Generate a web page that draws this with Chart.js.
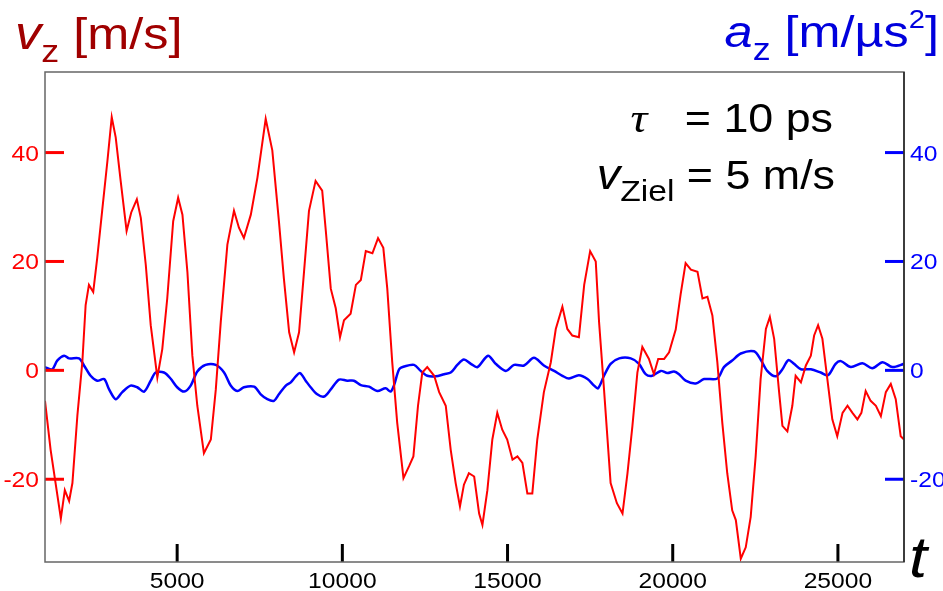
<!DOCTYPE html>
<html>
<head>
<meta charset="utf-8">
<script src="https://cdn.jsdelivr.net/npm/chart.js@4/dist/chart.umd.min.js"></script>
<style>
  body { margin: 0; background: #fff; }
  #wrap { width: 943px; height: 591px; position: relative; }
</style>
</head>
<body>
<div id="wrap"><canvas id="chart"></canvas></div>
<script>
// time axis (t) and tick values
const tMin = 1000;
const tMax = 27000;
const xTicks = [5000, 10000, 15000, 20000, 25000];

// both vertical axes share the same range
const yMin = -35.2;
const yMax = 54.8;
const vTicks = [-20, 0, 20, 40];
const aTicks = [-20, 0, 20, 40];

// v_z [m/s]
const vzT = [1000,1170,1320,1480,1600,1730,1830,1980,2130,2230,2330,2460,2580,2730,2890,3020,3140,3290,3470,3610,
  3780,3900,4050,4200,4400,4550,4700,4880,5030,5160,5310,5460,5610,5810,6020,6170,6320,6520,6720,6870,
  7020,7230,7430,7680,7880,8080,8230,8390,8540,8690,8840,8990,9190,9390,9500,9650,9800,9930,10050,10250,
  10410,10560,10710,10910,11080,11240,11360,11510,11660,11850,12020,12150,12290,12420,12570,12780,12930,13130,13280,13430,
  13560,13680,13830,13990,14140,14240,14390,14540,14690,14840,14990,15150,15300,15450,15600,15750,15900,16100,16310,16460,
  16660,16810,16960,17160,17320,17500,17670,17770,17920,18120,18310,18480,18630,18780,18930,19080,19280,19430,19560,19740,
  19890,20090,20240,20390,20550,20750,20900,21050,21200,21350,21500,21650,21800,21910,22060,22210,22360,22510,22660,22820,
  22940,23070,23220,23320,23470,23620,23720,23880,24030,24180,24280,24400,24530,24680,24830,24980,25140,25290,25440,25590,
  25710,25840,25990,26150,26300,26450,26600,26750,26900,27000];
const vzV = [-5.6,-14.6,-20.7,-27.2,-22,-24,-20.7,-8.3,1.5,12,15.7,14.4,20.6,29.3,38.5,46.5,42.8,34.8,25.6,29,
  31.4,28,19.4,8.3,-1.3,3.9,13.2,27.4,31.7,28.6,18.1,2.7,-6.5,-15.2,-12.7,-3.5,8.9,23.1,29.3,26.2,
  24.3,28.6,35.4,46.2,40.4,27.4,16.9,7,3.3,7,18.1,29.3,34.8,33,25.6,15,11.4,6.1,9.2,10.4,
  15.7,16.6,21.9,21.5,24.3,22.5,15,1.5,-9.6,-19.8,-17.6,-15.8,-6.5,-0.4,0.6,-1,-4,-6.5,-14.6,-20.7,
  -25,-21,-18.9,-19.5,-26.3,-28.4,-22,-12.7,-7.8,-10.9,-12.7,-16.4,-15.8,-17,-22.6,-22.6,-12.7,-4,1.5,7.6,
  11.7,7.6,6.4,6.1,15.7,21.9,20,8.9,-3.5,-20.7,-24.4,-26.3,-18.9,-10.2,-0.4,4.3,2.1,-0.7,2.1,2.1,
  3.3,7.5,14,19.7,18.5,18.1,13.2,13.5,10.1,1.5,-9.6,-18.9,-25.7,-27.5,-34.6,-32.5,-26.9,-15.8,-1.6,7.6,
  9.8,5.8,-4,-10.2,-11.2,-6.5,-1,-2.2,0.9,2.7,6.4,8.3,5.8,-1.6,-9,-12.1,-7.8,-6.5,-7.8,-9,
  -7.8,-3.8,-5.6,-6.5,-8.4,-4,-2.5,-5.3,-12.1,-12.7];

// a_z [m/us^2]
const azT = [1000,1220,1370,1580,1730,2030,2180,2380,2580,2790,2940,3140,3340,3590,3790,4000,4200,4350,4600,4800,
  5000,5210,5410,5610,5860,6170,6420,6620,6820,7020,7330,7530,7730,7930,8080,8290,8440,8590,8720,8890,
  9040,9240,9450,9650,9900,10150,10350,10560,10810,11060,11310,11460,11560,11720,11870,12170,12370,12570,12830,13080,
  13280,13480,13680,13890,14090,14410,14640,14950,15200,15500,15800,16100,16410,16660,16860,17160,17420,17620,17740,17920,
  18120,18380,18730,18980,19180,19380,19640,19840,20040,20190,20390,20700,20950,21350,21550,21800,22060,22460,22660,22860,
  23120,23320,23500,23670,23880,24180,24480,24700,24930,25090,25390,25740,26040,26350,26650,27000];
const azV = [0.6,0.2,1.8,2.7,2.2,2.2,0.9,-1,-1.9,-1.6,-3.5,-5.3,-4,-2.8,-3.1,-3.9,-1.9,-0.4,-0.4,-1.5,
  -3.1,-3.9,-2.8,-0.2,1,1,-0.4,-2.8,-3.8,-3.1,-3,-4.4,-5.3,-5.6,-4.4,-2.8,-2.2,-1.1,-0.5,-1.9,
  -3.1,-4.4,-4.8,-3.5,-1.7,-1.9,-1.9,-2.7,-3,-3.8,-3.3,-3.9,-2.8,0.2,0.7,1,-0.1,-1,-1.1,-0.7,
  -0.4,1,2,1.2,0.6,2.7,1.2,-0.1,1,0.9,2.3,0.9,-0.1,-1,-1.5,-0.9,-1.6,-2.8,-3.3,-1,
  1.2,2.2,2.2,1.2,-0.7,-1,-0.1,-0.5,-0.2,-0.7,-1.9,-2.4,-1.6,-1.5,0.6,1.8,3.1,3.5,2,-0.1,
  -1.1,0.2,1.9,1.2,0.2,0.2,-0.4,-0.9,1.2,1.7,0.6,1.3,0.4,1.5,0.6,1.2];

const SANS = '"Liberation Sans", Arial, sans-serif';
const SERIF = '"Liberation Serif", "Times New Roman", serif';
const STRETCH = 1.12; // the lettering is a bit wider than plain Helvetica

// draw a row of text pieces (with sub/superscripts) on one baseline
function drawRuns(ctx, x, y, runs, align) {
  ctx.save();
  let w = 0;
  runs.forEach(r => { ctx.font = r.font; w += ctx.measureText(r.text).width; });
  ctx.translate(x, y);
  ctx.scale(STRETCH, 1);
  let cx = align === "right" ? -w : align === "center" ? -w / 2 : 0;
  ctx.textAlign = "left";
  ctx.textBaseline = "alphabetic";
  runs.forEach(r => {
    ctx.font = r.font;
    ctx.fillStyle = r.color;
    ctx.fillText(r.text, cx, r.dy || 0);
    cx += ctx.measureText(r.text).width;
  });
  ctx.restore();
}

function stroke(ctx, x1, y1, x2, y2) {
  ctx.beginPath();
  ctx.moveTo(x1, y1);
  ctx.lineTo(x2, y2);
  ctx.stroke();
}

const frame = {
  id: "frame",
  afterDatasetsDraw(chart) {
    const { ctx, chartArea: a, scales } = chart;
    ctx.save();
    ctx.lineCap = "butt";

    // ticks point into the plot
    ctx.lineWidth = 3;
    ctx.strokeStyle = "#000";
    scales.x.ticks.forEach(t => {
      const px = scales.x.getPixelForValue(t.value);
      stroke(ctx, px, a.bottom, px, a.bottom - 18);
    });
    ctx.strokeStyle = "#ff0000";
    scales.y.ticks.forEach(t => {
      const py = scales.y.getPixelForValue(t.value);
      stroke(ctx, a.left, py, a.left + 19, py);
    });
    ctx.strokeStyle = "#0000ff";
    scales.y2.ticks.forEach(t => {
      const py = scales.y2.getPixelForValue(t.value);
      stroke(ctx, a.right - 19, py, a.right, py);
    });

    // frame around the plot area
    ctx.lineWidth = 1.5;
    ctx.strokeStyle = "#666";
    ctx.strokeRect(a.left, a.top, a.right - a.left, a.bottom - a.top);
    ctx.strokeStyle = "#222";
    stroke(ctx, a.right, a.top, a.right, a.bottom);

    // tick labels
    const tickFont = "22px " + SANS;
    scales.x.ticks.forEach(t => {
      const px = scales.x.getPixelForValue(t.value);
      drawRuns(ctx, px, a.bottom + 26, [{ text: String(t.value), font: tickFont, color: "#000" }], "center");
    });
    scales.y.ticks.forEach(t => {
      const py = scales.y.getPixelForValue(t.value);
      drawRuns(ctx, a.left - 6, py + 8, [{ text: String(t.value), font: tickFont, color: "#ff0000" }], "right");
    });
    scales.y2.ticks.forEach(t => {
      const py = scales.y2.getPixelForValue(t.value);
      drawRuns(ctx, a.right + 6, py + 8, [{ text: String(t.value), font: tickFont, color: "#0000ff" }], "left");
    });

    // axis titles
    const big = "45px " + SANS;
    drawRuns(ctx, 15, 49, [
      { text: "v", font: "italic 47px " + SANS, color: "#a00000" },
      { text: "z", font: "32px " + SANS, dy: 13, color: "#a00000" },
      { text: " [m/s]", font: big, color: "#a00000" }
    ], "left");
    drawRuns(ctx, 939, 47, [
      { text: "a", font: "italic 45px " + SANS, color: "#0000dd" },
      { text: "z", font: "32px " + SANS, dy: 13, color: "#0000dd" },
      { text: " [m/\u00b5s", font: big, color: "#0000dd" },
      { text: "2", font: "26px " + SANS, dy: -19, color: "#0000dd" },
      { text: "]", font: big, color: "#0000dd" }
    ], "right");
    drawRuns(ctx, 909, 577, [{ text: "t", font: "italic 58px " + SANS, color: "#000" }], "left");

    // run parameters
    drawRuns(ctx, 833, 132, [
      { text: "\u03c4", font: "italic 42px " + SERIF, color: "#000" },
      { text: "   = 10 ps", font: "40px " + SANS, color: "#000" }
    ], "right");
    drawRuns(ctx, 835, 189, [
      { text: "v", font: "italic 42px " + SANS, color: "#000" },
      { text: "Ziel", font: "30px " + SANS, dy: 12, color: "#000" },
      { text: " = 5 m/s", font: "40px " + SANS, color: "#000" }
    ], "right");

    ctx.restore();
  }
};

const hiddenAxis = {
  grid: { display: false },
  border: { display: false },
  ticks: { display: false }
};

new Chart(document.getElementById("chart"), {
  type: "line",
  data: {
    datasets: [
      {
        label: "v_z",
        data: vzT.map((t, i) => ({ x: t, y: vzV[i] })),
        yAxisID: "y",
        borderColor: "#ff0000",
        borderWidth: 2,
        pointRadius: 0,
        tension: 0,
        order: 0
      },
      {
        label: "a_z",
        data: azT.map((t, i) => ({ x: t, y: azV[i] })),
        yAxisID: "y2",
        borderColor: "#0000ff",
        borderWidth: 2.5,
        pointRadius: 0,
        tension: 0.3,
        order: 1
      }
    ]
  },
  options: {
    responsive: true,
    maintainAspectRatio: false,
    animation: false,
    layout: { padding: { top: 72, left: 0, right: 0, bottom: 0 } },
    plugins: { legend: { display: false }, tooltip: { enabled: false } },
    scales: {
      x: {
        ...hiddenAxis,
        type: "linear",
        min: tMin,
        max: tMax,
        afterBuildTicks: s => { s.ticks = xTicks.map(v => ({ value: v })); },
        afterFit: s => { s.height = 29; }
      },
      y: {
        ...hiddenAxis,
        position: "left",
        min: yMin,
        max: yMax,
        afterBuildTicks: s => { s.ticks = vTicks.map(v => ({ value: v })); },
        afterFit: s => { s.width = 45; }
      },
      y2: {
        ...hiddenAxis,
        position: "right",
        min: yMin,
        max: yMax,
        afterBuildTicks: s => { s.ticks = aTicks.map(v => ({ value: v })); },
        afterFit: s => { s.width = 39; }
      }
    }
  },
  plugins: [frame]
});
</script>
</body>
</html>
